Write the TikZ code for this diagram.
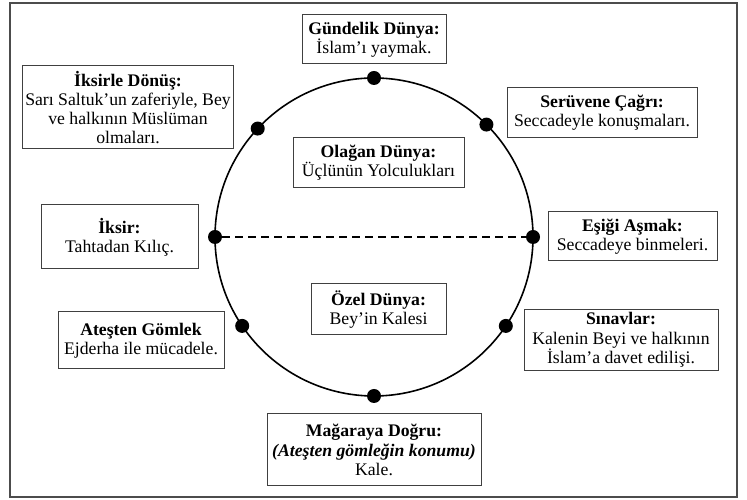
\documentclass[tikz,border=0pt]{standalone}
\usepackage{fontspec}
\setmainfont{Liberation Serif}
\usetikzlibrary{positioning}
\tikzset{
  mybox/.style={draw=black!75,line width=1pt,fill=white,align=center,inner sep=3pt,
    font=\fontsize{17.7}{19.3}\selectfont},
  mydot/.style={circle,fill=black,inner sep=0pt,minimum size=14pt},
  ring/.style={line width=1.6pt},
  cut/.style={line width=2pt,dash pattern=on 8pt off 5pt},
  frame/.style={draw=black!70,line width=1.5pt}
}
\begin{document}
\begin{tikzpicture}[x=1pt,y=1pt]
  \useasboundingbox (0,0) rectangle (747,500);
  \draw[frame] (10,3) rectangle (737,497);
  \coordinate (c) at (374,263);
  \draw[ring] (c) circle[radius=159];
  \foreach \a/\n in {90/top,45/ur,0/r,-34/lr,-90/bot,214/ll,180/l,137/ul}
    \path (c) ++(\a:159) node[mydot] (d-\n) {};
  \draw[cut] (d-l) -- (d-r);
  % the stages round the ring
  \node[mybox,minimum width=144pt,minimum height=49pt] (gundelik) at (374,460.5)
    {\textbf{Gündelik Dünya:}\\İslam’ı yaymak.};
  \node[mybox,minimum width=210pt,minimum height=83pt] (donus) at (128,392.5)
    {\textbf{İksirle Dönüş:}\\Sarı Saltuk’un zaferiyle, Bey\\ve halkının Müslüman\\olmaları.};
  \node[mybox,minimum width=190pt,minimum height=50pt] (cagri) at (602,387)
    {\textbf{Serüvene Çağrı:}\\Seccadeyle konuşmaları.};
  \node[mybox,minimum width=171pt,minimum height=50pt] (olagan) at (378.5,337)
    {\textbf{Olağan Dünya:}\\Üçlünün Yolculukları};
  \node[mybox,minimum width=157pt,minimum height=64pt] (iksir) at (119.5,263)
    {\textbf{İksir:}\\Tahtadan Kılıç.};
  \node[mybox,minimum width=169pt,minimum height=49pt] (esik) at (632.5,263.5)
    {\textbf{Eşiği Aşmak:}\\Seccadeye binmeleri.};
  \node[mybox,minimum width=135pt,minimum height=51pt] (ozel) at (378.5,190.5)
    {\textbf{Özel Dünya:}\\Bey’in Kalesi};
  \node[mybox,minimum width=166pt,minimum height=57pt] (gomlek) at (141,159.5)
    {\textbf{Ateşten Gömlek}\\Ejderha ile mücadele.};
  \node[mybox,minimum width=194pt,minimum height=58pt] (sinav) at (621,160)
    {\textbf{Sınavlar:}\\Kalenin Beyi ve halkının\\İslam’a davet edilişi.};
  \node[mybox,minimum width=214pt,minimum height=72pt] (magara) at (374,50)
    {\textbf{Mağaraya Doğru:}\\\textbf{\textit{(Ateşten gömleğin konumu)}}\\Kale.};
\end{tikzpicture}
\end{document}
